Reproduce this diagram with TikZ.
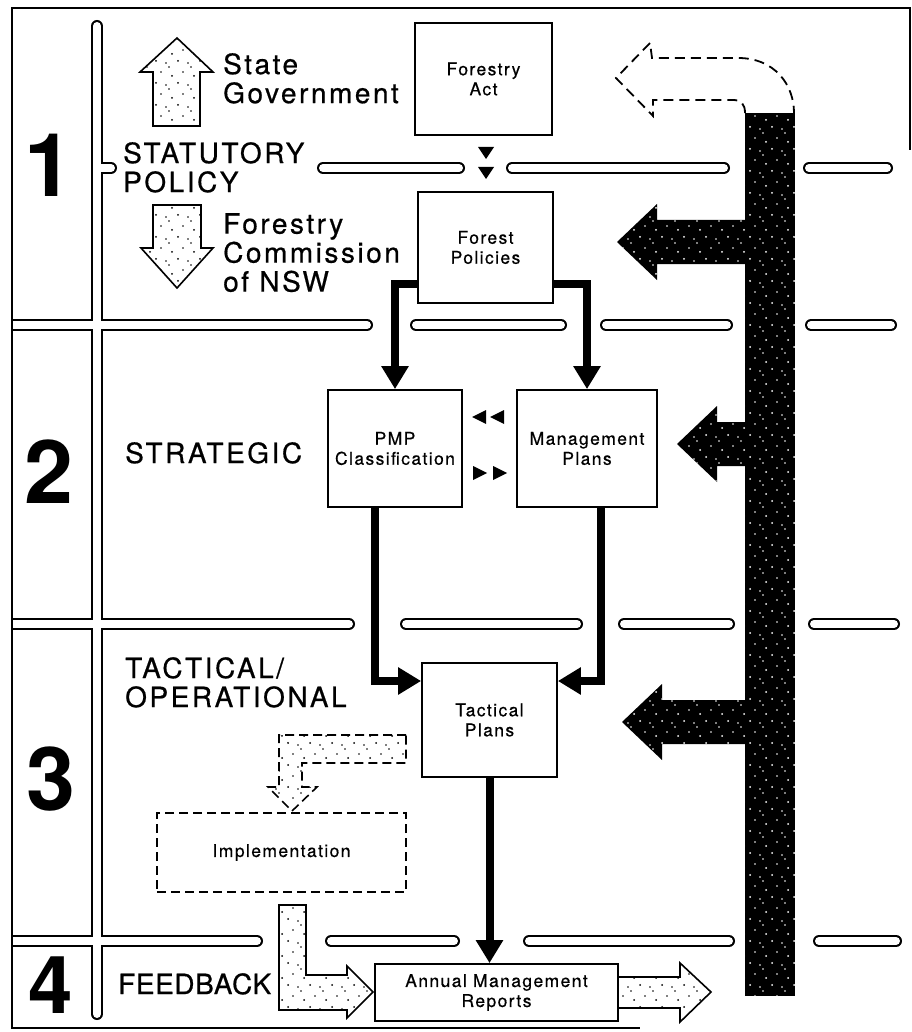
\documentclass[tikz,border=0pt]{standalone}
\usepackage{fontspec}
\setmainfont{TeX Gyre Heros}
\newfontfamily\headfont[LetterSpace=9, FakeBold=0.6]{TeX Gyre Heros}
\newfontfamily\boxfont[LetterSpace=8, FakeBold=0.5]{TeX Gyre Heros}
\usetikzlibrary{arrows.meta, patterns}

\pgfdeclarepatternformonly{speckle}{\pgfqpoint{-1pt}{-1pt}}{\pgfqpoint{23pt}{23pt}}{\pgfqpoint{22pt}{22pt}}{%
  \pgfpathcircle{\pgfqpoint{2pt}{3pt}}{1pt}
  \pgfpathcircle{\pgfqpoint{12pt}{1pt}}{0.8pt}
  \pgfpathcircle{\pgfqpoint{18pt}{10pt}}{1pt}
  \pgfpathcircle{\pgfqpoint{7pt}{14pt}}{0.8pt}
  \pgfpathcircle{\pgfqpoint{15pt}{19pt}}{0.9pt}
  \pgfusepath{fill}}

\begin{document}
\begin{tikzpicture}[x=1pt, y=-1pt,
    gutter/.style={line width=2pt, double=white, double distance=8pt, line cap=round},
    box/.style={draw, line width=1.8pt, align=center, inner sep=0pt,
      font=\boxfont\fontsize{17.5}{20}\selectfont},
    flow/.style={line width=8pt, -{Triangle[width=26pt, length=23pt]}},
    heading/.style={anchor=north west, inner sep=0pt, align=left,
      font=\headfont\fontsize{28}{29}\selectfont},
    level/.style={anchor=base, inner sep=0pt, font=\bfseries\fontsize{88}{88}\selectfont},
    lightblock/.style={draw, line width=1.6pt, line join=miter, pattern=speckle, pattern color=black},
    darkblock/.style={preaction={fill=black}, pattern=speckle, pattern color=white}]
    \useasboundingbox (0,0) rectangle (911,1032);

    % white channels between the levels
    \begin{scope}
        \clip (12,8) rectangle (910,1028);
        \draw[gutter] (97,26) -- (97,1014)
            (97,168) -- (111,168) (323,168) -- (459,168) (512,168) -- (724,168) (809,168) -- (887,168)
            (0,325) -- (367,325) (416,325) -- (561,325) (606,325) -- (727,325) (811,325) -- (891,325)
            (0,624) -- (349,624) (406,624) -- (577,624) (624,624) -- (729,624) (814,624) -- (894,624)
            (0,941) -- (257,941) (331,941) -- (454,941) (529,941) -- (729,941) (819,941) -- (896,941);
    \end{scope}
    \draw[line width=2.5pt] (910,150) -- (910,8) -- (12,8) -- (12,1028) -- (640,1028);

    \node[level] (lvl1) at (49,197) {1};
    \node[level] (lvl2) at (49,503) {2};
    \node[level] (lvl3) at (51,810) {3};
    \node[level, font=\bfseries\fontsize{80}{80}\selectfont] (lvl4) at (51,1013) {4};

    \node[heading] (state) at (223,53) {State\\Government};
    \node[heading] (statpol) at (123,142) {STATUTORY\\POLICY};
    \node[heading] (fcnsw) at (223,213) {Forestry\\Commission\\of NSW};
    \node[heading] (strat) at (125,442) {STRATEGIC};
    \node[heading] (tactop) at (125,657) {TACTICAL/\\OPERATIONAL};
    \node[heading, font=\headfont\fontsize{28}{29}\selectfont\addfontfeature{LetterSpace=2}] (fback) at (118,973) {FEEDBACK};

    \path[lightblock] (153,126) -- (153,72) -- (140,72) -- (177,38) -- (213,72) -- (200,72) -- (200,126) -- cycle;
    \path[lightblock] (153,205) -- (201,205) -- (201,248) -- (213,248) -- (177,288) -- (141,248) -- (153,248) -- cycle;

    \node[box, minimum width=137pt, minimum height=112pt] (fact) at (483.5,79) {Forestry\\Act};
    \node[box, minimum width=135pt, minimum height=111pt] (fpol) at (485.5,247.5) {Forest\\Policies};
    \node[box, minimum width=134pt, minimum height=117pt] (pmp) at (395,448.5) {PMP\\Classification};
    \node[box, minimum width=140pt, minimum height=117pt] (mplan) at (587,448.5) {Management\\Plans};
    \node[box, minimum width=135pt, minimum height=114pt] (tplan) at (489.5,720) {Tactical\\Plans};
    \node[box, dash pattern=on 9pt off 5pt, minimum width=249pt, minimum height=79pt] (impl) at (281.5,852.5) {Implementation};
    \node[box, minimum width=243pt, minimum height=57pt] (amr) at (496.5,992.5) {Annual Management\\Reports};

    \draw[flow] ([yshift=20pt]fpol.south west) -| (pmp.north);
    \draw[flow] ([yshift=20pt]fpol.south east) -| (mplan.north);
    \draw[flow] ([xshift=-20pt]pmp.south) |- ([yshift=39pt]tplan.west);
    \draw[flow] ([xshift=14pt]mplan.south) |- ([yshift=39pt]tplan.east);
    \draw[flow] (tplan.south) -- (tplan.south |- amr.north);

    \foreach \y in {147,167}
        \fill (478,\y) -- (494,\y) -- (486,\y+12) -- cycle;
    \foreach \x in {472,490}
        \fill (\x,417) -- (\x+14,410) -- (\x+14,424) -- cycle;
    \foreach \x in {473,493}
        \fill (\x,466) -- (\x+14,473) -- (\x,480) -- cycle;

    \path[lightblock, dash pattern=on 9pt off 5pt] (406,735) -- (279,735) -- (279,787) -- (268,787) -- (292,811)
        -- (317,787) -- (302,787) -- (302,763) -- (406,763) -- cycle;
    \path[lightblock] (279,905) -- (306,905) -- (306,975) -- (347,975) -- (347,966) -- (373,992)
        -- (347,1018) -- (347,1010) -- (279,1010) -- cycle;
    \path[lightblock] (amr.east |- 0,977) -- (680,977) -- (680,963) -- (711,992) -- (680,1022) -- (680,1008)
        -- (amr.east |- 0,1008);

    % feedback bar
    \path[darkblock] (745,113) rectangle (795,996);
    \foreach \cy/\bx in {242/657, 444/717, 722/662}
        \path[darkblock] (746,\cy-22) -- (\bx,\cy-22) -- (\bx,\cy-38) -- (\bx-40,\cy) -- (\bx,\cy+38)
            -- (\bx,\cy+22) -- (746,\cy+22) -- cycle;
    \draw[line width=1.8pt, dash pattern=on 10pt off 6pt] (745,113) .. controls (745,104) and (741,100) .. (733,100)
        -- (653,100) -- (653,116) -- (616,78) -- (650,43) -- (652,58) -- (738,58)
        .. controls (775,58) and (794,85) .. (794,113);
\end{tikzpicture}
\end{document}
